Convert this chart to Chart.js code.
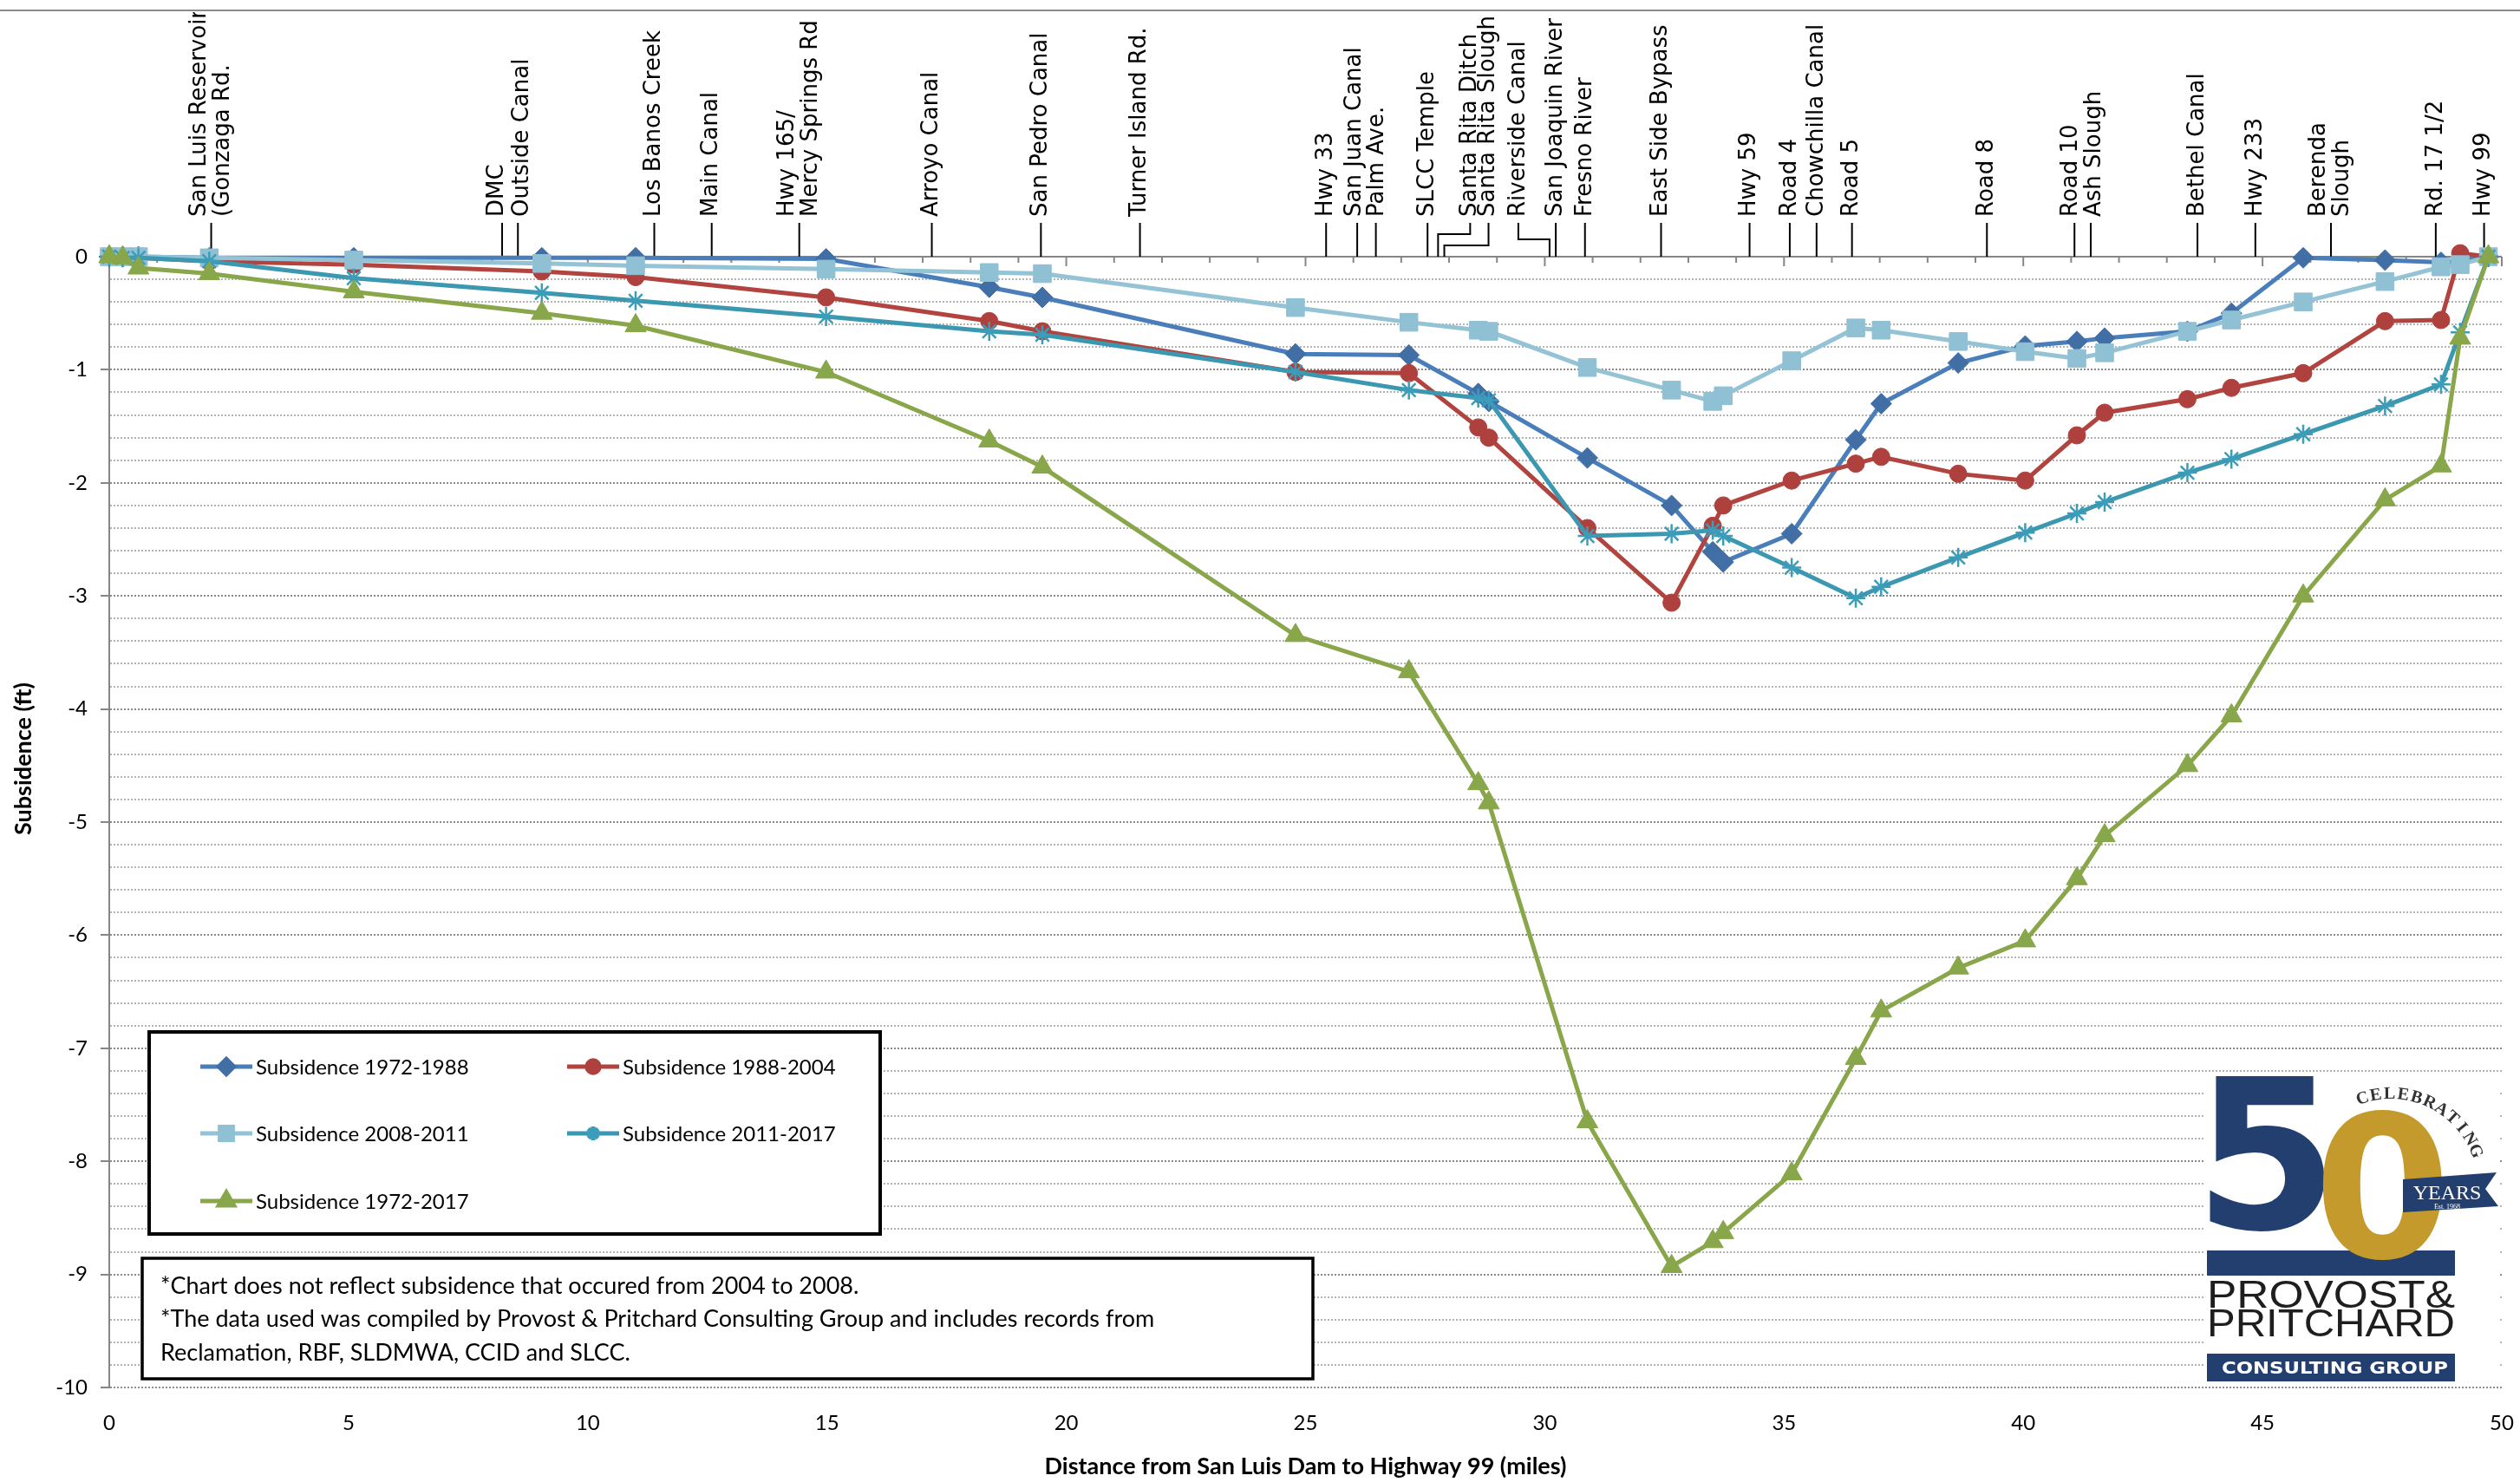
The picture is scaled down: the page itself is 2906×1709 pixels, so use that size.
<!DOCTYPE html>
<html>
<head>
<meta charset="utf-8">
<title>Subsidence from San Luis Dam to Highway 99</title>
<script src="https://cdn.jsdelivr.net/npm/chart.js@4.4.1/dist/chart.umd.min.js"></script>
<style>
  html, body { margin: 0; padding: 0; background: #fff; }
  canvas { display: block; }
</style>
</head>
<body>
<canvas id="chart_1" width="2906" height="1709"></canvas>
<script>
// survey points, distance from San Luis Dam (miles)
const miles = [0, 0.28, 0.61, 2.09, 5.11, 9.04, 11.0, 14.98, 18.39, 19.5, 24.79, 27.16, 28.61, 28.83, 30.89, 32.65,
    33.51, 33.73, 35.16, 36.5, 37.03, 38.64, 40.04, 41.12, 41.7, 43.43, 44.35, 45.85, 47.56, 48.73, 49.13, 49.72];

// subsidence (ft) per period
const sub1972_1988 = [0, 0, 0, -0.01, -0.01, -0.01, -0.01, -0.02, -0.27, -0.36, -0.86, -0.87, -1.21, -1.28, -1.78, -2.20,
    -2.61, -2.70, -2.45, -1.62, -1.30, -0.94, -0.79, -0.75, -0.72, -0.66, -0.50, -0.01, -0.03, -0.05, -0.04, 0];
const sub1988_2004 = [0, 0, -0.01, -0.04, -0.07, -0.13, -0.18, -0.36, -0.57, -0.66, -1.02, -1.03, -1.51, -1.60, -2.40, -3.06,
    -2.38, -2.20, -1.98, -1.83, -1.77, -1.92, -1.98, -1.58, -1.38, -1.26, -1.16, -1.03, -0.57, -0.56, 0.03, 0];
const sub2008_2011 = [0, 0, 0, -0.01, -0.03, -0.06, -0.08, -0.11, -0.14, -0.15, -0.45, -0.58, -0.65, -0.66, -0.98, -1.18,
    -1.28, -1.23, -0.92, -0.63, -0.65, -0.75, -0.84, -0.90, -0.85, -0.66, -0.56, -0.40, -0.22, -0.09, -0.07, 0];
const sub2011_2017 = [0, -0.01, -0.01, -0.04, -0.19, -0.32, -0.39, -0.53, -0.66, -0.69, -1.02, -1.18, -1.25, -1.27, -2.47, -2.45,
    -2.42, -2.47, -2.75, -3.02, -2.92, -2.66, -2.44, -2.27, -2.17, -1.91, -1.79, -1.57, -1.32, -1.13, -0.67, 0];
const sub1972_2017 = [0, -0.01, -0.10, -0.15, -0.31, -0.50, -0.61, -1.02, -1.63, -1.86, -3.35, -3.67, -4.66, -4.83, -7.65, -8.93,
    -8.71, -8.63, -8.11, -7.09, -6.67, -6.29, -6.05, -5.50, -5.12, -4.50, -4.06, -3.00, -2.15, -1.85, -0.72, 0];

const seriesNames = ['Subsidence 1972-1988', 'Subsidence 1988-2004', 'Subsidence 2008-2011', 'Subsidence 2011-2017', 'Subsidence 1972-2017'];

// landmarks along the route
const landmarkNames = ['San Luis Reservoir\n(Gonzaga Rd.', 'DMC', 'Outside Canal', 'Los Banos Creek', 'Main Canal',
    'Hwy 165/\nMercy Springs Rd', 'Arroyo Canal', 'San Pedro Canal', 'Turner Island Rd.', 'Hwy 33', 'San Juan Canal',
    'Palm Ave.', 'SLCC Temple', 'Santa Rita Ditch', 'Santa Rita Slough', 'Riverside Canal', 'San Joaquin River',
    'Fresno River', 'East Side Bypass', 'Hwy 59', 'Road 4', 'Chowchilla Canal', 'Road 5', 'Road 8', 'Road 10',
    'Ash Slough', 'Bethel Canal', 'Hwy 233', 'Berenda\nSlough', 'Rd. 17 1/2', 'Hwy 99'];
const landmarkMiles = [2.13, 8.21, 8.54, 11.39, 12.59, 14.42, 17.19, 19.47, 21.54, 25.43, 26.08, 26.47, 27.55, 27.77, 27.9,
    30.1, 30.23, 30.84, 32.43, 34.28, 35.12, 35.68, 36.42, 39.24, 41.07, 41.41, 43.64, 44.85, 46.43, 48.62, 49.63];

const xTicks = [0, 5, 10, 15, 20, 25, 30, 35, 40, 45, 50];
const noteLines = [
    '*Chart does not reflect subsidence that occured from 2004 to 2008.',
    '*The data used was compiled by Provost & Pritchard Consulting Group and includes records from',
    'Reclamation, RBF, SLDMWA, CCID and SLCC.'
];

Chart.defaults.font.family = 'Lato, "Liberation Sans", sans-serif';
Chart.defaults.color = '#000';

const toPoints = vals => miles.map((m, i) => ({ x: m, y: vals[i] }));

const isMajor = v => Math.abs(v - Math.round(v)) < 1e-6;

const datasets = [
    { label: seriesNames[0], data: toPoints(sub1972_1988), borderColor: '#4A7EBB', backgroundColor: '#416EA5',
      pointStyle: 'rectRot', pointRadius: 12, order: 4 },
    { label: seriesNames[1], data: toPoints(sub1988_2004), borderColor: '#B24440', backgroundColor: '#AE413D',
      pointStyle: 'circle', pointRadius: 10, order: 3 },
    { label: seriesNames[2], data: toPoints(sub2008_2011), borderColor: '#93C3D5', backgroundColor: '#8FC0D3',
      pointStyle: 'rect', pointRadius: 14.5, order: 2 },
    { label: seriesNames[3], data: toPoints(sub2011_2017), borderColor: '#3C97B0', backgroundColor: '#3C9DBA',
      pointStyle: 'star', pointRadius: 11, pointBorderWidth: 2.5, order: 1 },
    { label: seriesNames[4], data: toPoints(sub1972_2017), borderColor: '#8AA64A', backgroundColor: '#88A64A',
      pointStyle: 'triangle', pointRadius: 14, order: 0 }
];
datasets.forEach(d => {
    d.borderWidth = 5;
    d.pointBackgroundColor = d.backgroundColor;
    d.pointBorderColor = d.backgroundColor;
    if (!d.pointBorderWidth) d.pointBorderWidth = 1;
    d.fill = false;
    d.tension = 0;
    d.clip = false;
});

// label nudges: [label x shift, y of the bend] where the leader line bends
const elbows = { 'Santa Rita Ditch': [37, 270], 'Santa Rita Slough': [51, 283], 'Riverside Canal': [-36, 276] };
// small sideways nudges of crowded labels
const nudges = { 'DMC': -6, 'Outside Canal': 5, 'San Juan Canal': -3, 'Palm Ave.': 2, 'Road 10': -4, 'Ash Slough': 4 };

const overlay = {
    id: 'overlay',
    beforeDatasetsDraw(chart) {
        const { ctx, chartArea: ca, scales: { x, y } } = chart;
        const y0 = y.getPixelForValue(0);
        ctx.save();
        // top axis with ticks
        ctx.strokeStyle = '#868686';
        ctx.lineWidth = 2;
        ctx.beginPath(); ctx.moveTo(ca.left, y0); ctx.lineTo(ca.right, y0); ctx.stroke();
        for (let m = 0; m <= 50; m++) {
            const px = x.getPixelForValue(m);
            ctx.beginPath(); ctx.moveTo(px, y0); ctx.lineTo(px, y0 + (m % 5 === 0 ? 11 : 7)); ctx.stroke();
        }
        // landmarks
        ctx.beginPath(); ctx.rect(0, 14, chart.width, y0); ctx.clip();
        ctx.strokeStyle = '#000';
        ctx.fillStyle = '#000';
        ctx.font = '26px "DejaVu Sans"';
        ctx.textAlign = 'left';
        ctx.textBaseline = 'middle';
        landmarkNames.forEach((name, i) => {
            const ax = x.getPixelForValue(landmarkMiles[i]);
            const el = elbows[name];
            const lx = el ? ax + el[0] : ax;
            ctx.beginPath();
            ctx.moveTo(lx, 257);
            if (el) { ctx.lineTo(lx, el[1]); ctx.lineTo(ax, el[1]); }
            ctx.lineTo(ax, y0);
            ctx.stroke();
            const lines = name.split('\n');
            ctx.save();
            ctx.translate(lx + (nudges[name] || 0), 250);
            ctx.rotate(-Math.PI / 2);
            lines.forEach((t, k) => ctx.fillText(t, 0, (k - (lines.length - 1) / 2) * 27));
            ctx.restore();
        });
        ctx.restore();
    },
    afterDraw(chart) {
        const ctx = chart.ctx;
        ctx.save();
        // frame line at top
        ctx.strokeStyle = '#8c8c8c';
        ctx.lineWidth = 2;
        ctx.beginPath(); ctx.moveTo(0, 12); ctx.lineTo(chart.width, 12); ctx.stroke();

        // y axis title
        ctx.save();
        ctx.translate(27, 875);
        ctx.rotate(-Math.PI / 2);
        ctx.font = 'bold 27px Lato';
        ctx.fillStyle = '#000';
        ctx.textAlign = 'center';
        ctx.textBaseline = 'middle';
        ctx.fillText('Subsidence (ft)', 0, 0);
        ctx.restore();

        // legend box
        ctx.fillStyle = '#fff';
        ctx.fillRect(172, 1190, 843, 233);
        ctx.strokeStyle = '#000';
        ctx.lineWidth = 4;
        ctx.strokeRect(172, 1190, 843, 233);
        const slots = [[231, 1230], [654, 1230], [231, 1307], [654, 1307], [231, 1385]];
        chart.data.datasets.forEach((d, i) => {
            const [lx, ly] = slots[i];
            ctx.strokeStyle = d.borderColor;
            ctx.lineWidth = 5;
            ctx.beginPath(); ctx.moveTo(lx, ly); ctx.lineTo(lx + 60, ly); ctx.stroke();
            ctx.fillStyle = d.backgroundColor;
            ctx.strokeStyle = d.backgroundColor;
            Chart.helpers.drawPoint(ctx, { pointStyle: d.pointStyle, rotation: 0, radius: d.pointRadius * 0.72,
                borderWidth: d.pointStyle === 'star' ? 2 : 1 }, lx + 30, ly);
            ctx.fillStyle = '#000';
            ctx.font = '24px Lato';
            ctx.textAlign = 'left';
            ctx.textBaseline = 'middle';
            ctx.fillText(d.label, lx + 64, ly + 1);
        });

        // note box
        ctx.fillStyle = '#fff';
        ctx.fillRect(164, 1451, 1350, 139);
        ctx.strokeStyle = '#000';
        ctx.lineWidth = 3.5;
        ctx.strokeRect(164, 1451, 1350, 139);
        ctx.fillStyle = '#000';
        ctx.font = '27px Lato';
        ctx.textAlign = 'left';
        ctx.textBaseline = 'middle';
        noteLines.forEach((t, i) => ctx.fillText(t, 185, 1483 + i * 38.5));

        drawLogo(ctx);
        ctx.restore();
    }
};

function fitText(ctx, text, x, y, w) {
    const m = ctx.measureText(text).width;
    ctx.save();
    ctx.translate(x, y);
    ctx.scale(w / m, 1);
    ctx.fillText(text, 0, 0);
    ctx.restore();
}

function drawLogo(ctx) {
    const navy = '#233F70', gold = '#C39A2B';
    ctx.save();
    ctx.fillStyle = '#fff';
    ctx.fillRect(2543, 1240, 338, 356);
    ctx.textAlign = 'left';
    ctx.textBaseline = 'alphabetic';
    ctx.fillStyle = navy;
    ctx.font = 'bold 240px "DejaVu Sans"';
    ctx.fillText('5', 2530, 1417);
    ctx.fillRect(2545, 1442, 286, 29);
    ctx.fillStyle = gold;
    ctx.font = 'bold 228px "DejaVu Sans"';
    ctx.fillText('0', 2668, 1450);

    // ribbon
    ctx.fillStyle = navy;
    ctx.beginPath();
    ctx.moveTo(2771, 1360); ctx.lineTo(2879, 1352); ctx.lineTo(2866, 1371);
    ctx.lineTo(2881, 1391); ctx.lineTo(2771, 1398); ctx.closePath(); ctx.fill();
    ctx.fillStyle = '#fff';
    ctx.textAlign = 'center';
    ctx.font = '24px "Liberation Serif"';
    ctx.fillText('YEARS', 2822, 1383);
    ctx.font = '8px "Liberation Serif"';
    ctx.fillText('Est. 1968', 2822, 1394);

    // CELEBRATING along the arc
    ctx.fillStyle = '#333';
    ctx.font = 'bold 20px "Liberation Serif"';
    const word = 'CELEBRATING';
    for (let i = 0; i < word.length; i++) {
        const a = (-108 + i * 8.6) * Math.PI / 180;
        ctx.save();
        ctx.translate(2757 + 100 * Math.cos(a), 1367 + 100 * Math.sin(a));
        ctx.rotate(a + Math.PI / 2);
        ctx.fillText(word[i], 0, 0);
        ctx.restore();
    }

    ctx.textAlign = 'left';
    ctx.fillStyle = '#1e1e1e';
    ctx.font = '44px "Liberation Sans"';
    fitText(ctx, 'PROVOST&', 2545, 1508, 286);
    fitText(ctx, 'PRITCHARD', 2545, 1541, 286);

    ctx.fillStyle = navy;
    ctx.fillRect(2545, 1561, 286, 32);
    ctx.fillStyle = '#fff';
    ctx.font = 'bold 19px "DejaVu Sans"';
    fitText(ctx, 'CONSULTING GROUP', 2562, 1584, 261);
    ctx.restore();
}

const ctx_1 = document.getElementById('chart_1').getContext('2d');
const chart_1 = new Chart(ctx_1, {
    type: 'line',
    data: { datasets: datasets },
    options: {
        responsive: false,
        devicePixelRatio: 1,
        animation: false,
        events: [],
        layout: { padding: { top: 296, right: 21, left: 0, bottom: 0 } },
        plugins: { legend: { display: false }, tooltip: { enabled: false } },
        scales: {
            x: {
                type: 'linear',
                min: 0,
                max: 50,
                afterFit: s => { s.height = 109; s.paddingLeft = 0; s.paddingRight = 0; },
                afterBuildTicks: s => { s.ticks = xTicks.map(v => ({ value: v })); },
                grid: { display: false, drawTicks: false },
                border: { display: false },
                ticks: { font: { size: 24 }, padding: 27, color: '#000' },
                title: {
                    display: true,
                    text: 'Distance from San Luis Dam to Highway 99 (miles)',
                    font: { size: 27, weight: 'bold' },
                    padding: { top: 0, bottom: 2 },
                    color: '#000'
                }
            },
            y: {
                min: -10,
                max: 0,
                afterFit: s => { s.width = 126; s.paddingTop = 0; s.paddingBottom = 0; },
                ticks: {
                    stepSize: 0.2,
                    maxTicksLimit: 100,
                    autoSkip: false,
                    font: { size: 24 },
                    padding: 15,
                    color: '#000',
                    callback: v => isMajor(v) ? String(Math.round(v)) : ''
                },
                grid: {
                    color: c => isMajor(c.tick.value) ? '#8a8a8a' : '#b4b4b4',
                    lineWidth: 2,
                    tickLength: 10,
                    tickWidth: 2,
                    tickColor: c => isMajor(c.tick.value) ? '#868686' : 'rgba(0,0,0,0)'
                },
                border: { display: true, color: '#868686', width: 2, dash: [2, 2] }
            }
        }
    },
    plugins: [overlay]
});
</script>
</body>
</html>
